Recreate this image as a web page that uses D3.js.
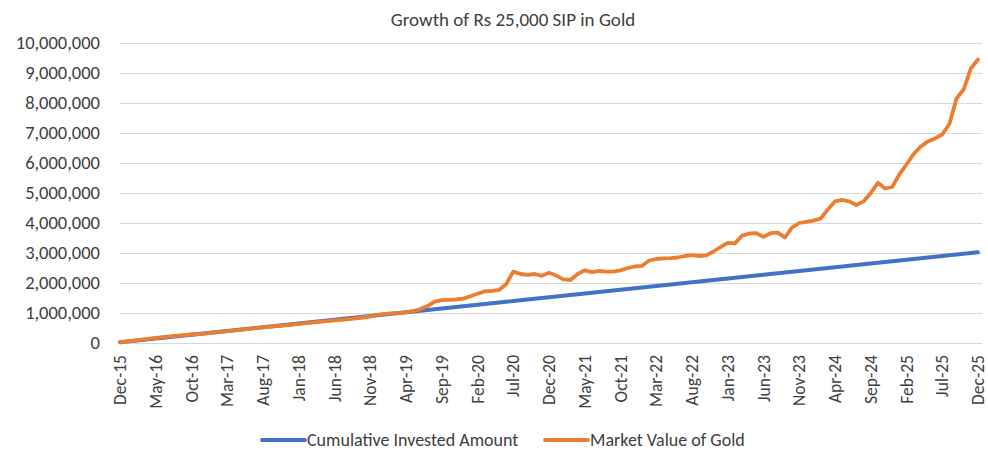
<!DOCTYPE html>
<html>
<head>
<meta charset="utf-8">
<script src="https://cdn.jsdelivr.net/npm/d3@7"></script>
<style>
  html, body { margin: 0; padding: 0; background: #fff; }
  svg text { font-family: Carlito, Lato, "Open Sans", sans-serif; fill: #404040; }
</style>
</head>
<body>
<svg id="chart" width="988" height="457"></svg>
<script>
// Monthly SIP of Rs 25,000 in gold, Dec-2015 to Dec-2025
const title = "Growth of Rs 25,000 SIP in Gold";
const seriesNames = ["Cumulative Invested Amount", "Market Value of Gold"];
const seriesColors = ["#4472C4", "#ED7D31"];

// Month categories (Dec-15 ... Dec-25)
const months = d3.timeMonth.range(new Date(2015, 11, 1), new Date(2026, 0, 1));
const monthLabels = months.map(d3.timeFormat("%b-%y"));

// Cumulative amount invested at each month
const invested = [
  25000, 50000, 75000, 100000, 125000, 150000, 175000, 200000, 225000, 250000,
  275000, 300000, 325000, 350000, 375000, 400000, 425000, 450000, 475000, 500000,
  525000, 550000, 575000, 600000, 625000, 650000, 675000, 700000, 725000, 750000,
  775000, 800000, 825000, 850000, 875000, 900000, 925000, 950000, 975000, 1000000,
  1025000, 1050000, 1075000, 1100000, 1125000, 1150000, 1175000, 1200000, 1225000, 1250000,
  1275000, 1300000, 1325000, 1350000, 1375000, 1400000, 1425000, 1450000, 1475000, 1500000,
  1525000, 1550000, 1575000, 1600000, 1625000, 1650000, 1675000, 1700000, 1725000, 1750000,
  1775000, 1800000, 1825000, 1850000, 1875000, 1900000, 1925000, 1950000, 1975000, 2000000,
  2025000, 2050000, 2075000, 2100000, 2125000, 2150000, 2175000, 2200000, 2225000, 2250000,
  2275000, 2300000, 2325000, 2350000, 2375000, 2400000, 2425000, 2450000, 2475000, 2500000,
  2525000, 2550000, 2575000, 2600000, 2625000, 2650000, 2675000, 2700000, 2725000, 2750000,
  2775000, 2800000, 2825000, 2850000, 2875000, 2900000, 2925000, 2950000, 2975000, 3000000,
  3025000
];

// Market value of the accumulated gold holding at each month
const goldValue = [
  25000, 51000, 80000, 112000, 140000, 167000, 195000, 223000, 242000, 262000,
  283000, 295000, 318000, 345000, 368000, 393000, 423000, 445000, 468000, 498000,
  520000, 548000, 567000, 585000, 612000, 640000, 660000, 685000, 712000, 730000,
  752000, 770000, 795000, 822000, 850000, 885000, 935000, 968000, 985000, 1005000,
  1020000, 1060000, 1130000, 1230000, 1380000, 1430000, 1440000, 1450000, 1480000, 1560000,
  1640000, 1720000, 1740000, 1770000, 1960000, 2380000, 2300000, 2270000, 2300000, 2240000,
  2340000, 2250000, 2120000, 2100000, 2300000, 2420000, 2360000, 2400000, 2380000, 2380000,
  2420000, 2500000, 2550000, 2570000, 2750000, 2800000, 2820000, 2830000, 2850000, 2900000,
  2930000, 2900000, 2920000, 3050000, 3200000, 3340000, 3320000, 3580000, 3650000, 3660000,
  3540000, 3660000, 3680000, 3520000, 3850000, 4000000, 4040000, 4080000, 4150000, 4450000,
  4720000, 4770000, 4720000, 4600000, 4720000, 5000000, 5340000, 5150000, 5200000, 5620000,
  5950000, 6300000, 6550000, 6720000, 6820000, 6950000, 7300000, 8150000, 8450000, 9150000,
  9450000
];

const yTicks = [0, 1000000, 2000000, 3000000, 4000000, 5000000, 6000000, 7000000, 8000000, 9000000, 10000000];
const xTickStep = 5;

const FONT = "Carlito, Lato, 'Open Sans', sans-serif";
const svg = d3.select("#chart");
const W = 988, H = 457;
const plot = { left: 120, right: 978, top: 43, bottom: 343, gridEnd: 982 };

const x = d3.scaleLinear().domain([0, months.length - 1]).range([plot.left, plot.right]);
const y = d3.scaleLinear().domain([0, 10000000]).range([plot.bottom, plot.top]);

// Horizontal gridlines
svg.append("g").selectAll("line").data(yTicks.slice(1)).join("line")
  .attr("x1", plot.left).attr("x2", plot.gridEnd)
  .attr("y1", d => Math.round(y(d)) + 0.5).attr("y2", d => Math.round(y(d)) + 0.5)
  .attr("stroke", "#d9d9d9").attr("stroke-width", 1);

// Y axis labels
const yAxis = d3.axisLeft(y).tickValues(yTicks).tickFormat(d3.format(",")).tickSize(0).tickPadding(20);
const gy = svg.append("g").attr("transform", `translate(${plot.left},0)`).call(yAxis);
gy.select(".domain").remove();
gy.selectAll("text").attr("font-size", 18.5).attr("fill", "#404040").style("font-family", FONT);

// X axis (baseline + rotated month labels)
const xTickIdx = d3.range(0, months.length, xTickStep);
const xAxis = d3.axisBottom(x).tickValues(xTickIdx).tickFormat(i => monthLabels[i]).tickSize(0).tickPadding(0);
const gx = svg.append("g").attr("transform", `translate(0,${Math.round(y(0))})`).call(xAxis);
gx.select(".domain").attr("stroke", "#d9d9d9").attr("d", `M${plot.left},0.5H${plot.gridEnd}`);
gx.selectAll("text")
  .attr("font-size", 17.5).attr("fill", "#404040")
  .style("font-family", FONT)
  .attr("text-anchor", "end")
  .attr("dy", "0.32em")
  .attr("transform", "translate(0,12) rotate(-90)")
  .attr("x", 0).attr("y", 0);

// Series lines
const line = d3.line().x((d, i) => x(i)).y(d => y(d));
[invested, goldValue].forEach((vals, k) => {
  svg.append("path").datum(vals)
    .attr("fill", "none")
    .attr("stroke", seriesColors[k])
    .attr("stroke-width", 3.8)
    .attr("stroke-linejoin", "round")
    .attr("stroke-linecap", "round")
    .attr("d", line);
});

// Title
svg.append("text").attr("x", 513).attr("y", 26).attr("text-anchor", "middle")
  .attr("font-size", 19).style("font-family", FONT).text(title);

// Legend
const legendX = [262, 545];
legendX.forEach((lx, k) => {
  const g = svg.append("g").attr("transform", `translate(${lx},440)`);
  g.append("line").attr("x1", 0).attr("x2", 43).attr("y1", 0).attr("y2", 0)
    .attr("stroke", seriesColors[k]).attr("stroke-width", 3.8).attr("stroke-linecap", "round");
  g.append("text").attr("x", 45).attr("y", 0).attr("dy", "0.35em")
    .attr("font-size", 18).style("font-family", FONT).text(seriesNames[k]);
});
</script>
</body>
</html>
